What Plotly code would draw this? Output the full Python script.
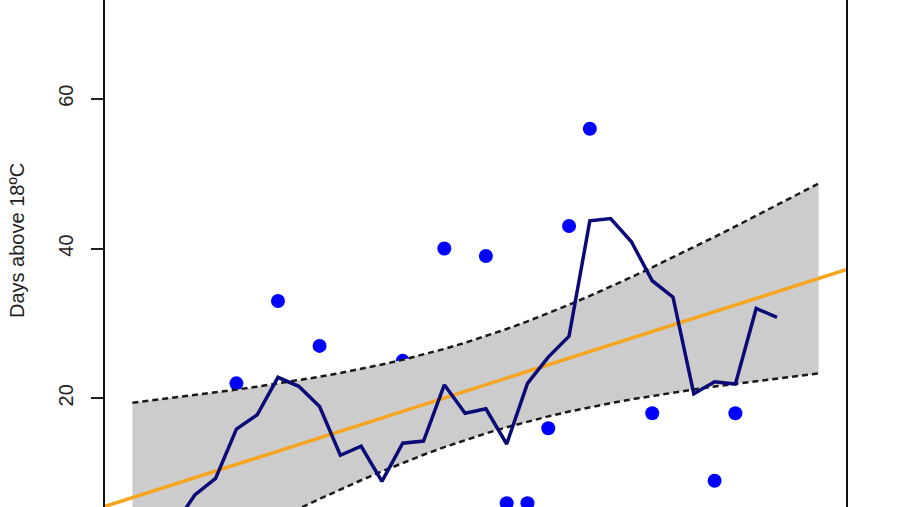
import plotly.graph_objects as go

# ---- data ----
years = list(range(1980, 2014))  # 34 years (x-axis itself is cropped out)

# annual values (only those visible in the crop; others fall below the visible window)
annual_days = [None, None, None, None, None, 22, None, 33, None, 27,
               None, None, None, 25, None, 40, None, 39, 6, 6,
               16, 43, 56, None, None, 18, None, None, 9, 18,
               None, None, None, None]

# smoothed series (years 1982..2011)
smooth_years = list(range(1982, 2012))
smooth_days = [3.0, 7.1, 9.3, 15.9, 17.8, 22.8, 21.6, 18.9, 12.4, 13.6,
               8.9, 14.0, 14.3, 21.8, 18.0, 18.6, 13.9, 22.0, 25.5, 28.3,
               43.7, 44.0, 40.9, 35.7, 33.5, 20.6, 22.2, 21.9, 32.0, 30.8]

# confidence band of the linear trend
band_upper = [19.42, 19.75, 20.08, 20.43, 20.79, 21.16, 21.56, 21.97, 22.41, 22.88,
              23.39, 23.92, 24.51, 25.15, 25.84, 26.60, 27.42, 28.30, 29.26, 30.28,
              31.35, 32.49, 33.68, 34.91, 36.18, 37.49, 38.81, 40.18, 41.56, 42.95,
              44.37, 45.80, 47.23, 48.68]
band_lower = [-5.94, -4.49, -3.06, -1.63, -0.21, 1.18, 2.56, 3.93, 5.25, 6.56,
              7.83, 9.06, 10.25, 11.39, 12.46, 13.48, 14.44, 15.32, 16.14, 16.90,
              17.59, 18.23, 18.82, 19.35, 19.86, 20.33, 20.77, 21.18, 21.58, 21.95,
              22.31, 22.66, 22.99, 23.32]

# linear trend: value at first and last year
trend_first = 6.74
trend_last = 36.0

y_ticks = [0, 20, 40, 60]
y_title = "Days above 18ºC"

# ---- figure ----
pad = 0.04 * (years[-1] - years[0])
x_range = [years[0] - pad, years[-1] + pad]
slope = (trend_last - trend_first) / (years[-1] - years[0])
trend_x = x_range
trend_y = [trend_first + slope * (xx - years[0]) for xx in trend_x]

fig = go.Figure()

fig.add_trace(go.Scatter(
    x=years, y=annual_days, mode="markers",
    marker=dict(color="#0000FF", size=14, line=dict(width=0)),
    showlegend=False, hoverinfo="skip"))

fig.add_trace(go.Scatter(
    x=years + years[::-1], y=band_upper + band_lower[::-1],
    fill="toself", fillcolor="#CCCCCC", line=dict(width=0),
    mode="lines", showlegend=False, hoverinfo="skip"))

for band in (band_upper, band_lower):
    fig.add_trace(go.Scatter(
        x=years, y=band, mode="lines",
        line=dict(color="#1a1a1a", width=2.5, dash="6px,4px"),
        showlegend=False, hoverinfo="skip"))

fig.add_trace(go.Scatter(
    x=trend_x, y=trend_y, mode="lines",
    line=dict(color="#F5A520", width=3.5),
    showlegend=False, hoverinfo="skip"))

fig.add_trace(go.Scatter(
    x=smooth_years, y=smooth_days, mode="lines",
    line=dict(color="#0B0B78", width=3.5),
    showlegend=False, hoverinfo="skip"))

fig.update_layout(
    width=900, height=507,
    margin=dict(l=105, r=54, t=0, b=0),
    paper_bgcolor="white", plot_bgcolor="white",
    font=dict(family="Liberation Sans, Arial, sans-serif", color="#222222"),
)

fig.update_xaxes(range=x_range, showline=False, showgrid=False, zeroline=False,
                 showticklabels=False, ticks="")
fig.update_yaxes(range=[5.49, 73.18], tickvals=y_ticks, ticks="outside", ticklen=12,
                 tickwidth=2, tickcolor="#222222", showline=True, linewidth=2,
                 linecolor="#111111", mirror=True, showgrid=False, zeroline=False,
                 tickangle=-90, tickfont=dict(size=20, color="#222222"),
                 ticklabelstandoff=10)

fig.add_annotation(text=y_title, xref="paper", yref="paper", x=0, y=1 - 241 / 507,
                   xanchor="center", yanchor="middle", xshift=-88, textangle=-90,
                   showarrow=False, font=dict(size=20, color="#222222"))

fig.write_html("out.html", config={"displayModeBar": False},
               post_script="document.body.style.margin='0px';document.body.style.padding='0px';")
